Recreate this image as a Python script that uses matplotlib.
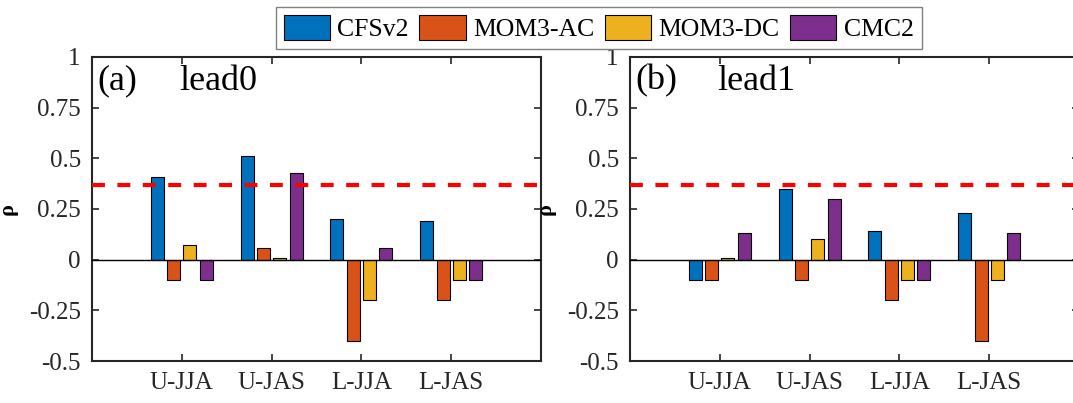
import numpy as np
import matplotlib
matplotlib.use('Agg')
import matplotlib.pyplot as plt

plt.rcParams['font.family'] = ['Liberation Serif', 'DejaVu Serif']
plt.rcParams['axes.unicode_minus'] = False

seasons = ['U-JJA', 'U-JAS', 'L-JJA', 'L-JAS']
models = ['CFSv2', 'MOM3-AC', 'MOM3-DC', 'CMC2']
colors = ['#0072BD', '#D95319', '#EDB120', '#7E2F8E']

# correlation per model (rows) and season (columns)
lead0 = [[0.41, 0.51, 0.20, 0.19],
         [-0.10, 0.06, -0.40, -0.20],
         [0.07, 0.01, -0.20, -0.10],
         [-0.10, 0.43, 0.06, -0.10]]
lead1 = [[-0.10, 0.35, 0.14, 0.23],
         [-0.10, -0.10, -0.20, -0.40],
         [0.01, 0.10, -0.10, -0.10],
         [0.13, 0.30, -0.10, 0.13]]
sig_level = 0.37

panels = [('(a)', 'lead0', lead0), ('(b)', 'lead1', lead1)]

fig = plt.figure(figsize=(10.73, 4.03), dpi=100)
lefts = [0.0857, 0.5871]
x = np.arange(1, len(seasons) + 1)
groupwidth = min(0.8, 4 / 5.5)
width = 0.8 * groupwidth / 4

handles = []
for left, (tag, name, vals) in zip(lefts, panels):
    ax = fig.add_axes([left, 0.1042, 0.4185, 0.7544])
    for i, (m, c) in enumerate(zip(models, colors)):
        off = (2 * (i + 1) - 1 - 4) / 8 * groupwidth
        b = ax.bar(x + off, vals[i], width, color=c, edgecolor='black',
                   linewidth=0.8, label=m, zorder=2)
        if tag == '(a)':
            handles.append(b)
    ax.axhline(0, color='black', lw=1.0, zorder=3)
    ax.axhline(sig_level, color='red', lw=3, linestyle=(0, (3.1, 3.0)), zorder=4)
    ax.set_xlim(0, 5)
    ax.set_ylim(-0.5, 1)
    ax.set_xticks(x)
    ax.set_xticklabels(seasons)
    ticks = [-0.5, -0.25, 0, 0.25, 0.5, 0.75, 1]
    ax.set_yticks(ticks)
    ax.set_yticklabels(['-0.5', '-0.25', '0', '0.25', '0.5', '0.75', '1'])
    ax.tick_params(direction='in', top=True, right=True, length=5, width=1.2,
                   labelsize=18, pad=8, colors='#262626')
    for s in ax.spines.values():
        s.set_linewidth(1.5)
        s.set_color('#262626')
    ax.set_ylabel('ρ', fontsize=16, fontweight='bold')
    ax.yaxis.set_label_coords(-0.165, 0.5)
    ax.text(0.012, 0.975, tag, transform=ax.transAxes, fontsize=26, va='top')
    ax.text(0.195, 0.975, name, transform=ax.transAxes, fontsize=26, va='top')

leg = fig.legend(handles=handles, labels=models, loc='center', ncol=4,
                 bbox_to_anchor=(0.558, 0.93), fontsize=18.5, frameon=True,
                 fancybox=False, edgecolor='#808080', framealpha=1,
                 handlelength=1.8, handleheight=1.15, handletextpad=0.3,
                 columnspacing=0.4, borderpad=0.3, borderaxespad=0)
leg.get_frame().set_linewidth(1.0)

plt.savefig('out.png', dpi=100)
